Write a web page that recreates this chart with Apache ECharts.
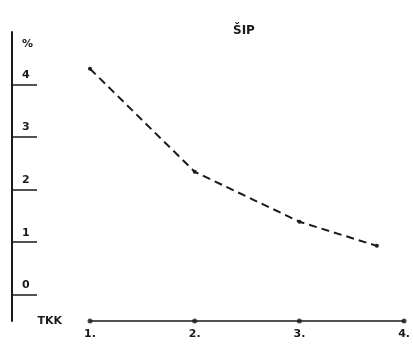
<!DOCTYPE html>
<html><head><meta charset="utf-8">
<script src="https://cdn.jsdelivr.net/npm/echarts@6/dist/echarts.min.js"></script>
<style>html,body{margin:0;padding:0;background:#fff}#c{width:413px;height:344px}</style>
</head><body><div id="c"></div>
<script>
var titleText = 'ŠIP';
var xName = 'TKK';
var yName = '%';
var xTicks = [1, 2, 3, 4];
var xTickLabels = ['1.', '2.', '3.', '4.'];
var yTicks = [0, 1, 2, 3, 4];
var seriesX = [1, 2, 3, 3.74];
var seriesY = [4.3, 2.34, 1.39, 0.93];
var yMin = -0.5, yMax = 5;

var ink = '#1a1a1a';
var font = 'DejaVu Sans';
var chart = echarts.init(document.getElementById('c'), null, {renderer: 'canvas'});
chart.setOption({
  animation: false,
  backgroundColor: '#fff',
  title: {text: titleText, left: 228, top: 20, textStyle: {fontFamily: font, fontSize: 12, fontWeight: 'bold', color: ink}},
  grid: {left: 90, right: 8, top: 32, bottom: 23},
  xAxis: {
    type: 'value', min: 1, max: 4, interval: 1,
    name: xName, nameLocation: 'start', nameGap: 28,
    nameTextStyle: {fontFamily: font, fontSize: 11, fontWeight: 'bold', color: ink, verticalAlign: 'middle'},
    axisLine: {onZero: false, lineStyle: {color: ink, width: 1.5}},
    axisTick: {show: false},
    splitLine: {show: false},
    axisLabel: {margin: 8, fontFamily: font, fontSize: 11, fontWeight: 'bold', color: ink,
      formatter: function (v) { var i = xTicks.indexOf(v); return i >= 0 ? xTickLabels[i] : ''; }}
  },
  yAxis: {
    type: 'value', min: yMin, max: yMax, position: 'left', offset: 78,
    name: yName, nameLocation: 'end', nameGap: -18,
    nameTextStyle: {fontFamily: font, fontSize: 11, fontWeight: 'bold', color: ink, align: 'left', padding: [0, 0, 0, 10]},
    axisLine: {show: true, lineStyle: {color: ink, width: 2}},
    axisTick: {show: true, inside: true, length: 25, customValues: yTicks, lineStyle: {color: ink, width: 1.5}},
    axisLabel: {show: true, inside: true, margin: 10, customValues: yTicks, verticalAlign: 'bottom', padding: [0, 0, 4, 0],
      fontFamily: font, fontSize: 11, fontWeight: 'bold', color: ink},
    splitLine: {show: false}
  },
  series: [
    {type: 'line', data: seriesX.map(function (x, i) { return [x, seriesY[i]]; }),
     symbol: 'circle', symbolSize: 4, itemStyle: {color: ink},
     lineStyle: {color: ink, width: 2, type: [8, 5]}},
    {type: 'scatter', data: xTicks.map(function (x) { return [x, yMin]; }),
     symbol: 'circle', symbolSize: 5, itemStyle: {color: ink}, clip: false}
  ]
});
</script></body></html>
